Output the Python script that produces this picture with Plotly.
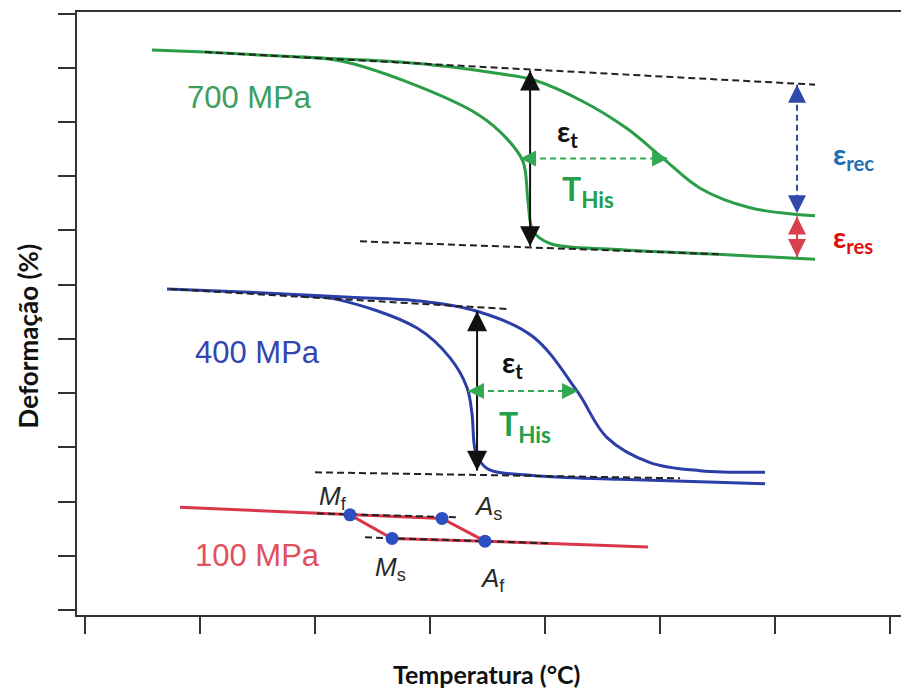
import plotly.graph_objects as go

# ---------------- data (arbitrary temperature / strain units) ----------------
# 700 MPa
t700_heat = [0.583, 1.043, 1.870, 2.739, 3.174, 3.609, 3.896, 4.330, 4.713, 5.026, 5.348, 5.783, 6.348]
e700_heat = [10.33, 10.29, 10.20, 10.11, 10.02, 9.89, 9.78, 9.38, 8.88, 8.33, 7.78, 7.42, 7.27]
t700_cool = [1.870, 2.217, 2.800, 3.417, 3.670, 3.809, 3.852, 3.896, 4.043, 4.626, 5.496, 6.348]
e700_cool = [10.20, 10.13, 9.74, 9.14, 8.69, 8.27, 7.54, 6.99, 6.76, 6.65, 6.56, 6.47]
t700_tan_hi = [1.043, 6.348]
e700_tan_hi = [10.29, 9.69]
t700_tan_lo = [2.391, 5.548]
e700_tan_lo = [6.80, 6.56]

# 400 MPa
t400_heat = [0.713, 1.435, 2.304, 2.913, 3.409, 3.896, 4.278, 4.539, 4.913, 5.348, 5.913]
e400_heat = [5.92, 5.86, 5.77, 5.70, 5.51, 5.04, 4.04, 3.18, 2.72, 2.57, 2.54]
t400_cool = [1.870, 2.191, 2.887, 3.174, 3.322, 3.365, 3.400, 3.496, 3.896, 4.652, 5.913]
e400_cool = [5.79, 5.73, 5.20, 4.65, 4.10, 3.62, 2.89, 2.61, 2.48, 2.41, 2.33]
t400_tan_hi = [0.739, 3.696]
e400_tan_hi = [5.92, 5.55]
t400_tan_lo = [2.000, 5.174]
e400_tan_lo = [2.54, 2.43]

# 100 MPa
t100_main = [0.826, 2.304, 3.104, 3.478, 4.896]
e100_main = [1.895, 1.755, 1.69, 1.27, 1.16]
t100_cool = [2.304, 2.670, 3.478]
e100_cool = [1.755, 1.32, 1.27]
t100_tan_hi = [2.017, 3.243]
e100_tan_hi = [1.78, 1.71]
t100_tan_lo = [2.435, 4.043]
e100_tan_lo = [1.34, 1.23]
pts_names = ["Mf", "Ms", "As", "Af"]
pts_t = [2.304, 2.670, 3.104, 3.478]
pts_e = [1.755, 1.32, 1.69, 1.27]

# arrows (x, y_start, y_end) / (y, x_start, x_end)
arr700_t = (3.870, 9.95, 6.71)
arr700_his = (8.33, 3.783, 5.070)
arr_rec = (6.191, 9.69, 7.32)
arr_res = (6.191, 7.26, 6.51)
arr400_t = (3.409, 5.51, 2.57)
arr400_his = (4.04, 3.330, 4.287)

x_ticks = [0, 1, 2, 3, 4, 5, 6, 7]
y_ticks = list(range(12))

GREEN = "#2a9d45"
BLUE = "#2b3da6"
RED = "#d9364a"
DOT = "#2c4fc2"
GRAY = "#333333"

fig = go.Figure()

def curve(x, y, color, w=3, dash=None, spline=True):
    fig.add_trace(go.Scatter(
        x=x, y=y, mode="lines",
        line=dict(color=color, width=w, dash=dash,
                  shape="spline" if spline else "linear", smoothing=1.0),
        hoverinfo="skip", showlegend=False))

# curves
curve(t700_heat, e700_heat, GREEN)
curve(t700_cool, e700_cool, GREEN)
curve(t400_heat, e400_heat, BLUE)
curve(t400_cool, e400_cool, BLUE)
curve(t100_main, e100_main, RED, spline=False)
curve(t100_cool, e100_cool, RED, spline=False)

# tangent dashed lines
DASH = "7px,4px"
for tx, ty in [(t700_tan_hi, e700_tan_hi), (t700_tan_lo, e700_tan_lo),
               (t400_tan_hi, e400_tan_hi), (t400_tan_lo, e400_tan_lo),
               (t100_tan_hi, e100_tan_hi), (t100_tan_lo, e100_tan_lo)]:
    curve(tx, ty, "#222222", w=2, dash=DASH, spline=False)

# transformation points
fig.add_trace(go.Scatter(x=pts_t, y=pts_e, mode="markers",
                         marker=dict(color=DOT, size=13),
                         hoverinfo="skip", showlegend=False))

annotations = []

def head(x, y, ax, ay, color, size=2.0):
    annotations.append(dict(x=x, y=y, xref="x", yref="y", ax=ax, ay=ay,
                            text="", showarrow=True, arrowhead=2,
                            arrowsize=size, arrowwidth=2, arrowcolor=color))

def v_arrow(spec, color, dash=None, size=2.0):
    x, y0, y1 = spec
    curve([x, x], [y0, y1], color, w=2, dash=dash, spline=False)
    head(x, y0, 0, 12, color, size)
    head(x, y1, 0, -12, color, size)

def h_arrow(spec, color, dash=None, size=1.6):
    y, x0, x1 = spec
    curve([x0, x1], [y, y], color, w=2, dash=dash, spline=False)
    head(x0, y, 12, 0, color, size)
    head(x1, y, -12, 0, color, size)

v_arrow(arr700_t, "#111111")
h_arrow(arr700_his, "#33a853", dash="6px,4px")
v_arrow(arr_rec, "#3049a8", dash="6px,4px", size=1.8)
v_arrow(arr_res, "#d8404e", size=1.8)
v_arrow(arr400_t, "#111111")
h_arrow(arr400_his, "#33a853", dash="6px,4px")

def label(x, y, text, color, size, family="Liberation Sans"):
    annotations.append(dict(x=x, y=y, xref="x", yref="y", text=text,
                            showarrow=False, font=dict(color=color, size=size, family=family),
                            xanchor="center", yanchor="middle"))

label(1.426, 9.46, "700 MPa", "#3a9e5c", 31)
label(1.504, 4.75, "400 MPa", "#3346b0", 31)
label(1.496, 1.01, "100 MPa", "#e0505e", 31)

BF = "Lato"
label(4.191, 8.80, "<b>ε<sub>t</sub></b>", "#111111", 29, BF)
label(4.370, 7.72, "<b>T<sub>His</sub></b>", "#22a04a", 32, BF)
label(6.68, 8.38, "<b>ε<sub>rec</sub></b>", "#1f6db3", 29, BF)
label(6.68, 6.86, "<b>ε<sub>res</sub></b>", "#e01010", 29, BF)
label(3.720, 4.55, "<b>ε<sub>t</sub></b>", "#111111", 29, BF)
label(3.826, 3.40, "<b>T<sub>His</sub></b>", "#22a04a", 32, BF)

label(2.157, 2.08, "<i>M</i><sub>f</sub>", "#2a2a2a", 26)
label(2.652, 0.77, "<i>M</i><sub>s</sub>", "#2a2a2a", 26)
label(3.504, 1.90, "<i>A</i><sub>s</sub>", "#2a2a2a", 26)
label(3.539, 0.57, "<i>A</i><sub>f</sub>", "#2a2a2a", 26)

# axis titles
annotations.append(dict(x=-0.0592, y=0.462, xref="paper", yref="paper",
                        text="<b>Deformação (%)</b>", textangle=-90, showarrow=False,
                        font=dict(family=BF, size=26, color="#111111"),
                        xanchor="center", yanchor="middle"))
annotations.append(dict(x=0.495, y=-0.098, xref="paper", yref="paper",
                        text="<b>Temperatura (°C)</b>", showarrow=False,
                        font=dict(family=BF, size=25, color="#111111"),
                        xanchor="center", yanchor="middle"))

# the page body adds an 8px offset, so the figure is 8px smaller than the window
fig.update_layout(
    width=901, height=683,
    margin=dict(l=69, r=4, t=2, b=76),
    paper_bgcolor="white", plot_bgcolor="white",
    showlegend=False,
    annotations=annotations,
    xaxis=dict(range=[-0.0696, 7.13], tickvals=x_ticks, showticklabels=False,
               ticks="outside", ticklen=17, tickwidth=2, tickcolor=GRAY,
               showline=True, linecolor=GRAY, linewidth=2, mirror=True,
               showgrid=False, zeroline=False),
    yaxis=dict(range=[-0.092, 11.03], tickvals=y_ticks, showticklabels=False,
               ticks="outside", ticklen=17, tickwidth=2, tickcolor=GRAY,
               showline=True, linecolor=GRAY, linewidth=2,
               showgrid=False, zeroline=False),
)

fig.write_html("out.html")
